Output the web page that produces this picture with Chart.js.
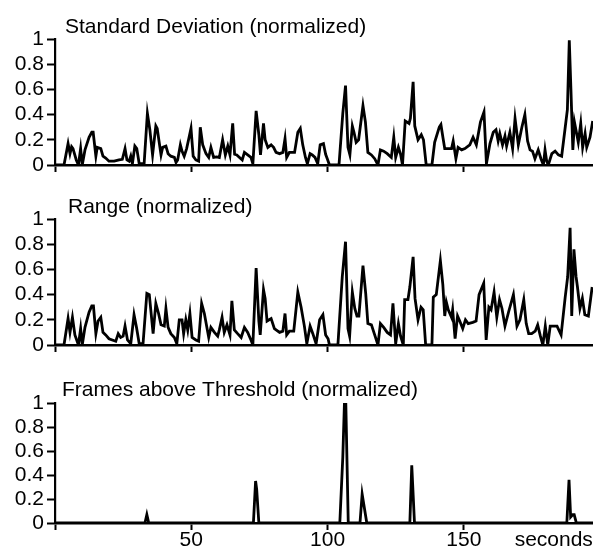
<!DOCTYPE html>
<html>
<head>
<meta charset="utf-8">
<script src="https://cdn.jsdelivr.net/npm/chart.js@4"></script>
<style>
  html, body { margin: 0; padding: 0; background: #fff; overflow: hidden; }
  #wrap { position: relative; width: 593px; height: 548px; }
  canvas { position: absolute; left: 0; }
</style>
</head>
<body>
<div id="wrap">
  <canvas id="sdChart" width="593" height="180" style="top:0px"></canvas>
  <canvas id="rangeChart" width="593" height="180" style="top:180px"></canvas>
  <canvas id="framesChart" width="593" height="188" style="top:360px"></canvas>
</div>
<script>
// ---- data (seconds / normalized value) ----
const sdTime = [0, 3.3, 4.8, 5.5, 6.1, 6.6, 7.8, 8.6, 9.4, 10, 11, 12.5, 13.5, 14, 15, 15.5, 16.8, 17.6, 18.6, 19.8, 21.7, 23.5, 24.7, 25.7, 26.4, 27.2, 27.8, 28.4, 29.3, 30, 30.9, 32.7, 33.9, 34.8, 35.8, 37, 37.5, 38.9, 39.5, 40.7, 41.5, 42.5, 43.8, 44.4, 45, 46, 46.6, 47.4, 48.3, 49.9, 50.7, 51.7, 52.7, 53.3, 54.2, 55.4, 56.4, 57.2, 58.2, 59.3, 60.3, 61.5, 62.5, 63.4, 64.2, 65.2, 65.9, 66.7, 67.7, 68.7, 69.5, 70.7, 71.9, 72.6, 73.8, 74.8, 75.4, 76.5, 77.1, 78.1, 79.3, 80.2, 81.1, 82.4, 83.6, 84.4, 85, 86, 87.9, 89.1, 90, 90.9, 91.9, 92.6, 93.6, 94.4, 95.4, 96.4, 97.3, 98.5, 99.3, 99.9, 100.7, 104.2, 105.6, 106.6, 107.5, 108.2, 109.1, 109.7, 110.5, 111.4, 113, 113.9, 114.8, 116.1, 117.3, 118.5, 119.4, 120.6, 121.9, 123.4, 124.3, 125, 126, 126.8, 127.5, 128.5, 129.9, 130.4, 131.4, 132, 133.2, 134.4, 135.2, 136.2, 138.3, 139.3, 141, 141.6, 142.4, 143, 145.5, 146.1, 147.1, 147.9, 149.2, 150.4, 152.2, 153.4, 154.6, 156.1, 157.4, 158.3, 159.6, 160.8, 161.8, 162.6, 163.2, 164.2, 165.1, 165.7, 166.9, 167.9, 168.8, 170, 171.3, 172.4, 173.4, 174.3, 175.2, 176.1, 177.3, 178.3, 179.2, 179.8, 180.4, 181, 182.3, 183.5, 184.7, 185.9, 187.1, 188, 188.7, 189.3, 190, 190.6, 191.4, 192, 192.9, 193.6, 194.5, 195.1, 196.3, 197.3];
const sdValue = [0, 0, 0.17, 0.09, 0.145, 0.13, 0.04, 0, 0.13, 0, 0.12, 0.22, 0.26, 0.26, 0.07, 0.14, 0.13, 0.07, 0.055, 0.03, 0.03, 0.04, 0.045, 0.13, 0.04, 0.03, 0.07, 0.01, 0.15, 0.13, 0.01, 0.01, 0.41, 0.28, 0.08, 0.31, 0.29, 0.08, 0.14, 0.15, 0.09, 0.07, 0.06, 0.02, 0.04, 0.16, 0.11, 0.07, 0.13, 0.29, 0.07, 0.04, 0.03, 0.3, 0.16, 0.09, 0.06, 0.14, 0.06, 0.065, 0.06, 0.2, 0.08, 0.15, 0.08, 0.33, 0.085, 0.08, 0.06, 0.04, 0.1, 0.08, 0.06, 0.01, 0.43, 0.24, 0.08, 0.33, 0.2, 0.14, 0.16, 0.14, 0.1, 0.09, 0.1, 0.21, 0.06, 0.1, 0.1, 0.26, 0.29, 0.16, 0.06, 0.01, 0.09, 0.08, 0.06, 0.01, 0.16, 0.17, 0.085, 0.05, 0, 0, 0.41, 0.63, 0.14, 0.08, 0.31, 0.26, 0.18, 0.2, 0.47, 0.34, 0.1, 0.08, 0.05, 0, 0.12, 0.11, 0.09, 0.06, 0.22, 0.06, 0.14, 0.085, 0, 0.35, 0.33, 0.37, 0.66, 0.31, 0.2, 0.24, 0.2, 0, 0, 0.18, 0.3, 0.32, 0.21, 0.13, 0.13, 0.19, 0.05, 0.14, 0.12, 0.13, 0.16, 0.22, 0.16, 0.34, 0.42, 0.01, 0.17, 0.26, 0.28, 0.19, 0.25, 0.16, 0.23, 0.15, 0.26, 0.13, 0.37, 0.16, 0.3, 0.4, 0.19, 0.12, 0.11, 0.05, 0.12, 0.05, 0, 0.12, 0.03, 0, 0.09, 0.11, 0.08, 0.07, 0.28, 0.44, 0.99, 0.6, 0.12, 0.34, 0.25, 0.18, 0.33, 0.14, 0.25, 0.14, 0.22, 0.35];

const rangeTime = [0, 3.3, 4.8, 5.5, 6.4, 7.3, 8.6, 9.4, 10, 11, 12.5, 13.5, 14.1, 15, 15.8, 16.8, 17.6, 18.6, 19.8, 22.3, 23.2, 24.1, 25, 25.7, 26.6, 27.8, 29, 29.9, 30.9, 32.3, 33.7, 34.6, 36, 37, 38, 38.9, 40.1, 40.7, 41.5, 42.5, 43.8, 44.7, 45.6, 46.6, 47.2, 48, 48.7, 49.5, 50.3, 51.7, 52.7, 53.8, 54.8, 56.4, 57.2, 58.5, 59.7, 60.3, 61.3, 62.1, 63.1, 64.2, 64.9, 65.8, 67, 68.3, 69.5, 70.7, 71.9, 72.6, 73.8, 74.8, 75.3, 76.5, 77.1, 77.8, 79.3, 80.5, 82.4, 83.6, 84.4, 85, 86, 87.6, 89.1, 90.3, 91.5, 92.4, 93.6, 94.6, 95.8, 97.1, 98.3, 99.3, 100.2, 100.7, 103.8, 105.4, 106.6, 107.5, 108.1, 109.1, 110, 110.8, 111.5, 113, 114, 114.8, 116.1, 117.3, 118.5, 119.4, 120.6, 121.9, 123.1, 124, 125, 126, 126.8, 127.8, 128.3, 129.5, 130.2, 131.4, 132.1, 133.2, 134.3, 135.1, 136, 138.3, 138.8, 139.9, 141.4, 142.3, 143, 143.6, 144.3, 145.5, 145.9, 146.8, 147.7, 148.5, 149.6, 150.6, 151.6, 153.3, 154.5, 155.6, 157.3, 158.2, 159.2, 160, 161.1, 162.1, 163.1, 164, 165.1, 166.4, 168.2, 169.5, 170.6, 172, 172.9, 173.8, 174.9, 176.2, 177.1, 178.1, 179, 179.9, 180.8, 181.7, 184.2, 185.7, 187.2, 188.1, 189, 189.6, 190.4, 191.2, 191.7, 192.6, 193.5, 194.4, 195.7, 197.1];
const rangeValue = [0, 0, 0.21, 0.1, 0.22, 0.08, 0, 0.13, 0, 0.14, 0.26, 0.31, 0.31, 0.09, 0.19, 0.22, 0.1, 0.08, 0.05, 0.03, 0.09, 0.06, 0.07, 0.15, 0.04, 0.01, 0.24, 0.14, 0.01, 0.01, 0.41, 0.4, 0.09, 0.33, 0.25, 0.16, 0.15, 0.29, 0.14, 0.09, 0.06, 0.01, 0.2, 0.2, 0.09, 0.2, 0.12, 0.25, 0.06, 0.04, 0.03, 0.33, 0.25, 0.06, 0.14, 0.1, 0.07, 0.12, 0.22, 0.1, 0.16, 0.08, 0.35, 0.12, 0.09, 0.06, 0.14, 0.1, 0.04, 0, 0.61, 0.19, 0.08, 0.44, 0.37, 0.19, 0.21, 0.13, 0.1, 0.11, 0.25, 0.08, 0.11, 0.11, 0.42, 0.3, 0.15, 0.01, 0.15, 0.09, 0.01, 0.2, 0.24, 0.08, 0.05, 0, 0, 0.54, 0.82, 0.13, 0.07, 0.42, 0.29, 0.23, 0.23, 0.63, 0.41, 0.17, 0.16, 0.08, 0, 0.17, 0.14, 0.1, 0.08, 0.33, 0.01, 0.17, 0.07, 0, 0.36, 0.36, 0.46, 0.7, 0.37, 0.2, 0.3, 0.28, 0, 0, 0.38, 0.4, 0.67, 0.48, 0.23, 0.34, 0.28, 0.22, 0.28, 0.05, 0.23, 0.19, 0.13, 0.2, 0.17, 0.18, 0.19, 0.4, 0.49, 0.04, 0.3, 0.28, 0.42, 0.22, 0.36, 0.29, 0.15, 0.26, 0.4, 0.15, 0.2, 0.36, 0.17, 0.09, 0.09, 0.11, 0.16, 0.07, 0, 0.15, 0, 0.15, 0.15, 0.08, 0.38, 0.54, 0.93, 0.23, 0.76, 0.54, 0.46, 0.29, 0.37, 0.24, 0.23, 0.46];

const framesTime = [0, 33, 33.7, 34.4, 72.8, 73.6, 74, 74.8, 104.5, 105.6, 106.2, 106.7, 107.6, 111.9, 112.7, 114.4, 130.2, 130.9, 131.9, 187.8, 188.6, 189.2, 190, 190.5, 191.3, 197.4];
const framesValue = [0, 0, 0.07, 0, 0, 0.35, 0.28, 0, 0, 0.55, 1, 1, 0, 0, 0.24, 0, 0, 0.48, 0, 0, 0.36, 0.05, 0.07, 0.07, 0, 0];

// axis ticks
const yTicks = [0, 0.2, 0.4, 0.6, 0.8, 1];
const xTickValues = [0, 50, 100, 150];
const xTickLabels = ['', '50', '100', '150'];
const unitLabel = 'seconds';
const unitAt = 183;   // where the unit label sits on the time axis
const xMax = 197.4;

const FONT = '"Liberation Sans", Arial, Helvetica, sans-serif';
Chart.defaults.font.family = FONT;
Chart.defaults.color = '#000';

const CLEAR = 'rgba(0,0,0,0)';

// panel title drawn just above the plot area, slightly right of the y axis
const panelTitle = {
  id: 'panelTitle',
  afterDraw(chart, args, opts) {
    const { ctx, chartArea } = chart;
    ctx.save();
    ctx.font = '21px ' + FONT;
    ctx.fillStyle = '#000';
    ctx.textBaseline = 'alphabetic';
    ctx.textAlign = 'left';
    ctx.fillText(opts.text, chartArea.left + opts.dx, chartArea.top - opts.dy);
    ctx.restore();
  }
};

function makePanel(id, times, values, title, cfg) {
  const points = times.map((t, i) => ({ x: t, y: values[i] }));
  const tickVals = cfg.showLabels ? xTickValues.concat([unitAt]) : xTickValues;

  return new Chart(document.getElementById(id), {
    type: 'line',
    data: {
      datasets: [{
        data: points,
        borderColor: '#000',
        borderWidth: 2.8,
        pointRadius: 0,
        tension: 0,
        fill: false
      }]
    },
    plugins: [panelTitle],
    options: {
      responsive: false,
      animation: false,
      devicePixelRatio: 1,
      layout: { padding: { top: cfg.top, left: 0, right: 0, bottom: 0 } },
      plugins: {
        legend: { display: false },
        tooltip: { enabled: false },
        panelTitle: { text: title, dx: cfg.dx, dy: cfg.dy }
      },
      scales: {
        x: {
          type: 'linear',
          min: 0,
          max: xMax,
          afterBuildTicks: s => { s.ticks = tickVals.map(v => ({ value: v })); },
          afterFit: s => { s.height = cfg.xHeight; s.paddingLeft = 0; s.paddingRight = 0; },
          ticks: {
            autoSkip: false,
            maxRotation: 0,
            minRotation: 0,
            padding: -2,
            font: { size: 21 },
            color: '#000',
            callback: (v) => {
              if (!cfg.showLabels) return '';
              if (v === unitAt) return unitLabel;
              return xTickLabels[xTickValues.indexOf(v)];
            }
          },
          grid: {
            drawOnChartArea: false,
            drawTicks: true,
            tickLength: 7,
            tickWidth: 2,
            tickColor: c => (c.tick && c.tick.value === unitAt) ? CLEAR : '#000'
          },
          border: { display: true, color: '#000', width: 2.6 }
        },
        y: {
          min: 0,
          max: 1,
          afterBuildTicks: s => { s.ticks = yTicks.map(v => ({ value: v })); },
          afterFit: s => { s.width = 55; s.paddingTop = 0; s.paddingBottom = 0; },
          ticks: {
            autoSkip: false,
            padding: 3,
            font: { size: 21 },
            color: '#000',
            callback: v => (v === 0 || v === 1) ? String(v) : v.toFixed(1)
          },
          grid: {
            drawOnChartArea: false,
            drawTicks: true,
            tickLength: 8,
            tickWidth: 2,
            tickColor: '#000'
          },
          border: { display: true, color: '#000', width: 2.2 }
        }
      }
    }
  });
}

makePanel('sdChart', sdTime, sdValue, 'Standard Deviation (normalized)',
  { top: 39, xHeight: 15, dx: 10, dy: 6, showLabels: false });
makePanel('rangeChart', rangeTime, rangeValue, 'Range (normalized)',
  { top: 39, xHeight: 15, dx: 13, dy: 6, showLabels: false });
makePanel('framesChart', framesTime, framesValue, 'Frames above Threshold (normalized)',
  { top: 43, xHeight: 25, dx: 7, dy: 7, showLabels: true });
</script>
</body>
</html>
